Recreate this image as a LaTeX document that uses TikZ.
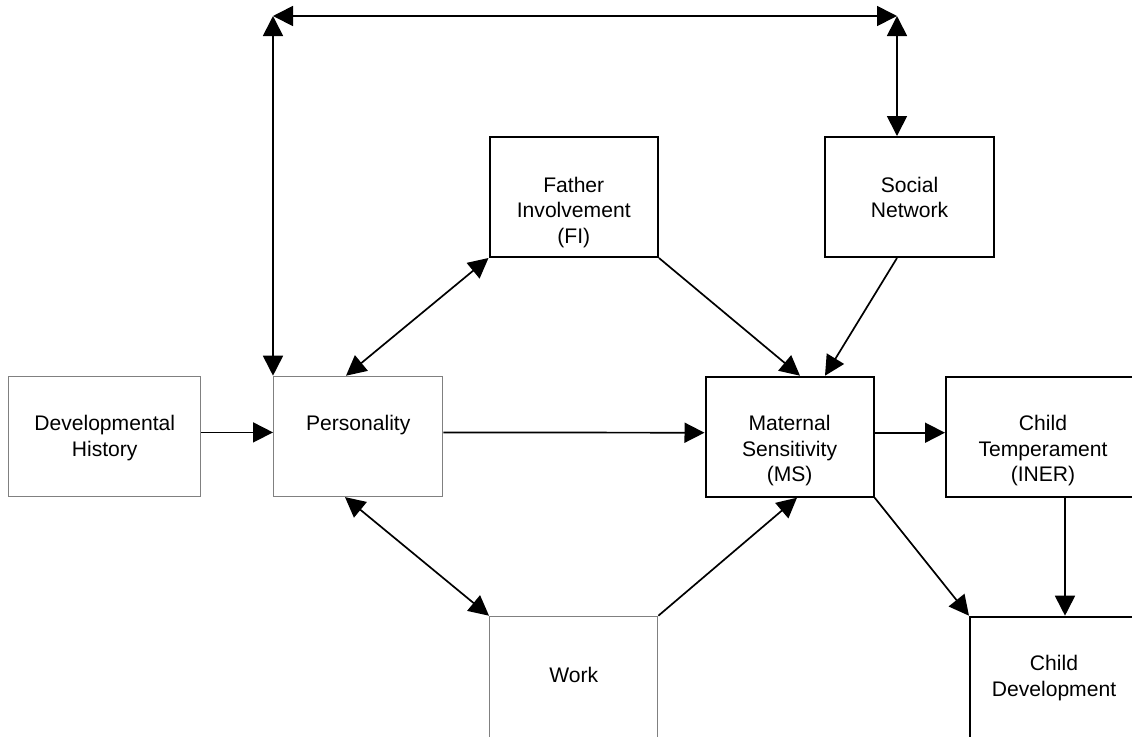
\documentclass[tikz,border=0pt]{standalone}
\usepackage{fontspec}
\setmainfont{Liberation Sans}
\usetikzlibrary{calc,arrows.meta}

\begin{document}
\begin{tikzpicture}[x=0.5pt, y=-0.5pt]

        % Box and arrow looks, one unit is one pixel of the page
        \tikzset{
            softbox/.style={draw=gray, line width=0.7pt, anchor=north west,
                minimum height=60pt, inner sep=0pt},
            hardbox/.style={draw=black, line width=1pt, anchor=north west,
                minimum height=60pt, inner sep=0pt},
            boxtext/.style={anchor=north, align=center, inner sep=0pt,
                font=\fontsize{10.55pt}{12.75pt}\selectfont},
            link/.style={line width=0.85pt, -{Triangle[length=10pt, width=10pt]}},
            twolink/.style={line width=0.85pt,
                {Triangle[length=10pt, width=10pt]}-{Triangle[length=10pt, width=10pt]}}
        }

        % Page with its margins
        \fill[white] (0, 0) rectangle (1132, 736);
        \useasboundingbox (0, 0) rectangle (1132, 736);
        \clip (0, 0) rectangle (1132, 736);

        % Boxes, placed by their top left corners
        \node[softbox, minimum width=96pt] (dev) at (8, 375.7) {};
        \node[softbox, minimum width=84.5pt] (pers) at (273, 375.7) {};
        \node[hardbox, minimum width=84.25pt] (fi) at (488.5, 136) {};
        \node[hardbox, minimum width=84.5pt] (sn) at (824, 136) {};
        \node[hardbox, minimum width=84.1pt] (ms) at (704.5, 375.7) {};
        \node[hardbox, minimum width=97pt] (ct) at (945, 375.7) {};
        \node[softbox, minimum width=84pt, minimum height=62.5pt] (work) at (489, 615.7) {};
        \node[hardbox, minimum width=84pt, minimum height=62.5pt] (cd) at (969, 615.7) {};

        % Texts, hanging from the top of each box
        \node[boxtext] (devtxt) at ([yshift=-19.6pt]dev.north) {Developmental\\History};
        \node[boxtext] (perstxt) at ([yshift=-19.6pt]pers.north) {Personality};
        \node[boxtext] (fitxt) at ([yshift=-20.2pt]fi.north) {Father\\Involvement\\(FI)};
        \node[boxtext] (sntxt) at ([yshift=-20.2pt]sn.north) {Social\\Network};
        \node[boxtext] (mstxt) at ([yshift=-19.6pt]ms.north) {Maternal\\Sensitivity\\(MS)};
        \node[boxtext] (cttxt) at ([yshift=-19.6pt]ct.north) {Child\\Temperament\\(INER)};
        \node[boxtext] (worktxt) at ([yshift=-25.4pt]work.north) {Work};
        \node[boxtext] (cdtxt) at ([yshift=-19.6pt]cd.north) {Child\\Development};

        % Corners of the frame over the top
        \coordinate (tl) at (pers.north west |- 0,16);
        \coordinate (tr) at ($(sn.north west)+(73, 0)$);
        \coordinate (tr) at (tr |- 0,16);
        \coordinate (ctfoot) at ($(ct.south west)+(120, 0)$);

        \begin{scope}
            \draw[twolink] (pers.north west) -- (tl);
            \draw[twolink] (tl) -- (tr);
            \draw[twolink] (tr) -- ($(sn.north west)+(73, 0)$);

            \draw[link] ([yshift=2pt]dev.east) -- ([yshift=2pt]pers.west);
            \draw[link] ([yshift=2pt]pers.east) -- ([yshift=2pt]ms.west);
            \draw[link] ([yshift=2pt]ms.east) -- ([yshift=2pt]ct.west);

            \draw[twolink] ($(pers.north west)+(73, 0)$) -- (fi.south west);
            \draw[twolink] ($(pers.south west)+(72, 0)$) -- (work.north west);

            \draw[link] (fi.south east) -- ($(ms.north west)+(95.5, 0)$);
            \draw[link] ($(sn.south west)+(73, 0)$) -- ($(ms.north west)+(120.5, 0)$);
            \draw[link] (work.north east) -- ($(ms.south west)+(92.5, 0)$);

            \draw[link] (ms.south east) -- (cd.north west);
            \draw[link] (ctfoot) -- (ctfoot |- cd.north);
        \end{scope}

\end{tikzpicture}
\end{document}
